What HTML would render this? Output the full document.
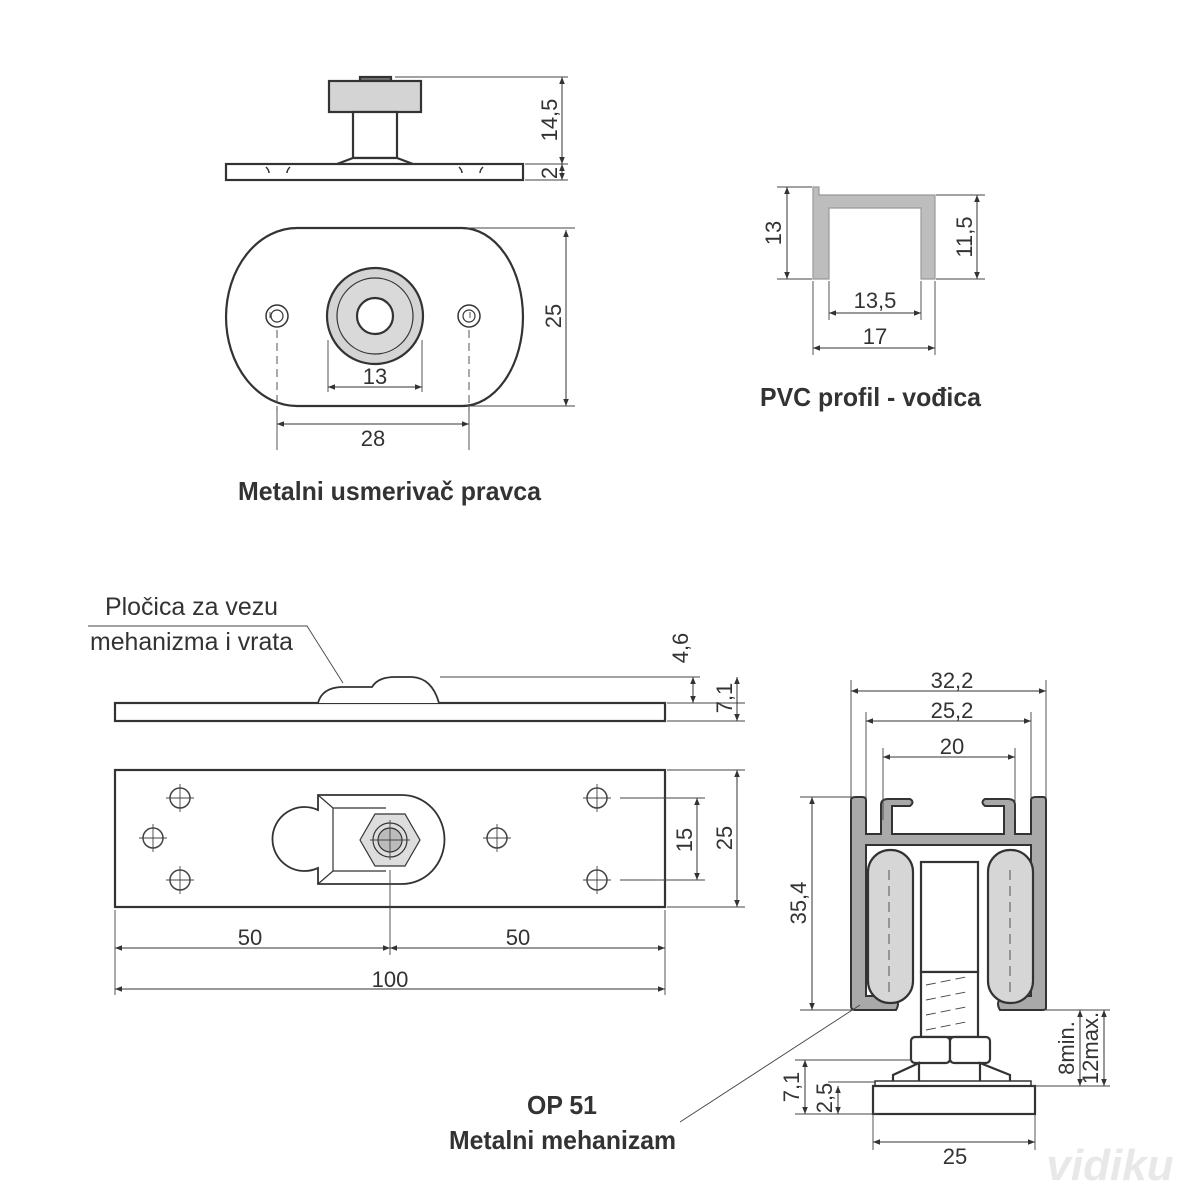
<!DOCTYPE html>
<html><head><meta charset="utf-8"><style>
html,body{margin:0;padding:0;background:#fff}
svg{display:block}
text{font-family:"Liberation Sans Narrow","Liberation Sans",sans-serif;fill:#333}
</style></head><body>
<svg width="1200" height="1200" viewBox="0 0 1200 1200" xmlns="http://www.w3.org/2000/svg">
<defs>
<marker id="a" viewBox="0 0 10 10" refX="10" refY="5" markerWidth="10" markerHeight="7" orient="auto-start-reverse" markerUnits="userSpaceOnUse"><path d="M0,1 L10,5 L0,9 Z" fill="#333"/></marker>
</defs>
<g stroke="#333" fill="none" stroke-width="2.2">
<rect x="360" y="77" width="31" height="4" fill="#777"/>
<rect x="329" y="81" width="92" height="31" fill="#d4d4d4"/>
<rect x="353" y="112" width="44" height="46" fill="#fff"/>
<path d="M337,164 L353,158 H397 L413,164" fill="#fff"/>
<rect x="226" y="164" width="297" height="16" fill="#fff"/>
<path d="M266,167 q3,3 3,6 M290,167 q-3,3 -3,6 M459,167 q3,3 3,6 M483,167 q-3,3 -3,6" stroke-width="1.5"/>
<path d="M297,228 H462 A61,89 0 0 1 462,406 H297 A71,89 0 0 1 297,228 Z" fill="#fff"/>
<circle cx="375" cy="316" r="48" fill="#d4d4d4"/>
<circle cx="375" cy="316" r="38" fill="#d9d9d9" stroke-width="1.2"/>
<circle cx="375" cy="316" r="18" fill="#fff"/>
<circle cx="277" cy="316" r="11" fill="#fff" stroke-width="1.5"/><circle cx="277" cy="316" r="6" stroke-width="1.2"/>
<circle cx="469" cy="316" r="11" fill="#fff" stroke-width="1.5"/><circle cx="469" cy="316" r="6" stroke-width="1.2"/>
<path d="M813,187 H819 V195 H935 V279 H921 V208 H829 V279 H813 Z" fill="#bdbdbd" stroke="#999" stroke-width="1.2"/>
<rect x="115" y="703" width="550" height="18" fill="#fff"/>
<path d="M318,703 Q322,688 341,687 H372 Q378,677 395,677 H412 Q432,678 439,703" fill="#fff" stroke-width="1.8"/>
<rect x="115" y="770" width="550" height="137" fill="#fff"/>
<path d="M318,795 H402 A42,44 0 0 1 402,884 H318 V868 A32,32 0 1 1 318,810 Z" fill="#fff" stroke-width="1.8"/>
<path d="M318,795 L333,808 H386 M318,884 L333,871 H386 M333,808 V871" stroke-width="1.2"/>
<path d="M360,840 L375,814 H405 L420,840 L405,866 H375 Z" fill="#ddd" stroke-width="1.2"/>
<circle cx="390" cy="840" r="17" stroke-width="1.2"/><circle cx="390" cy="840" r="12" fill="#bbb" stroke-width="1.2"/>
<path d="M851,800 Q851,797 856,797 H862 Q866,797 866,800 V834 H881 V805 Q881,799 888,799 H910 Q915,802 910,806 H892 V834 H1004 V806 H985 Q980,802 985,799 H1008 Q1015,799 1015,805 V834 H1031 V800 Q1031,797 1036,797 H1043 Q1046,797 1046,800 V1008 Q1046,1010 1042,1010 H1000 Q994,1000 1006,996 H1031 V845 H866 V996 H890 Q902,1000 896,1010 H855 Q851,1010 851,1006 Z" fill="#a9a9a9" stroke-width="2"/>
<rect x="868" y="850" width="45" height="153" rx="22" fill="#d6d6d6"/>
<rect x="988" y="850" width="45" height="153" rx="22" fill="#d6d6d6"/>
<rect x="921" y="862" width="57" height="110" fill="#fff"/>
<rect x="921" y="972" width="57" height="65" fill="#fff"/>
<rect x="911" y="1037" width="39" height="26" rx="4" fill="#fff"/>
<rect x="950" y="1037" width="40" height="26" rx="4" fill="#fff"/>
<path d="M893,1082 L893,1075 L919,1063 V1082 M1010,1082 V1075 L980,1063 V1082" fill="#fff"/>
<rect x="875" y="1081" width="156" height="5" fill="#fff" stroke-width="1.5"/>
<rect x="873" y="1086" width="162" height="28" fill="#fff"/>
</g>
<g stroke="#444" stroke-width="0.9" fill="none">
<path d="M270,312 v6 M470,312 v6" />
<path d="M277,330 V410 M469,330 V410" stroke-dasharray="8,5"/>
<path d="M395,77 H568 M525,180 H568 M525,164 H568 M466,228 H575 M466,406 H575 M328,340 V392 M422,340 V392 M277,406 V450 M469,406 V450"/>
<path d="M777,187 H812 M777,279 H812 M936,195 H985 M936,279 H985 M829,281 V320 M921,281 V320 M813,281 V355 M935,281 V355"/>
<path d="M88,626 H307 L343,683 M440,677 H700 M667,703 H745 M667,721 H745 M667,770 H745 M667,907 H745 M620,798 H705 M620,880 H705 M115,910 V995 M390,870 V955 M665,910 V995"/>
<path d="M851,680 V800 M1046,680 V800 M866,712 V800 M1031,712 V800 M883,748 V820 M1015,748 V820 M800,797 H852 M800,1010 H852 M1046,1010 H1110 M1032,1086 H1110 M795,1060 H912 M828,1082 H876 M795,1114 H876 M873,1115 V1150 M1035,1115 V1150 M680,1122 L860,1005"/>
<path d="M153,838 m-14,0 h28 m-14,-14 v28 M180,798 m-14,0 h28 m-14,-14 v28 M180,880 m-14,0 h28 m-14,-14 v28 M597,798 m-14,0 h28 m-14,-14 v28 M597,880 m-14,0 h28 m-14,-14 v28 M497,838 m-14,0 h28 m-14,-14 v28 M390,820 v40 M370,840 h40"/>
<path d="M889,870 V995 M1010,870 V995" stroke-dasharray="10,6"/>
<path d="M926,985 l40,-8 M926,1000 l40,-8 M926,1015 l40,-8 M926,1030 l40,-8" stroke-dasharray="10,5"/>
</g>
<g stroke="#444" fill="none" stroke-width="1.5">
<circle cx="153" cy="838" r="10"/><circle cx="180" cy="798" r="10"/><circle cx="180" cy="880" r="10"/>
<circle cx="597" cy="798" r="10"/><circle cx="597" cy="880" r="10"/><circle cx="497" cy="838" r="10"/>
</g>
<g stroke="#333" stroke-width="1" fill="none" marker-start="url(#a)" marker-end="url(#a)">
<path d="M562,77 V164"/><path d="M562,164 V180"/>
<path d="M566,230 V406"/><path d="M328,387 H422"/><path d="M277,424 H469"/>
<path d="M787,187 V279"/><path d="M977,195 V279"/><path d="M829,313 H921"/><path d="M813,348 H935"/>
<path d="M693,677 V703"/><path d="M737,677 V721"/>
<path d="M697,798 V880"/><path d="M737,770 V907"/>
<path d="M115,948 H390"/><path d="M390,948 H665"/><path d="M115,989 H665"/>
<path d="M851,691 H1046"/><path d="M866,721 H1031"/><path d="M883,757 H1015"/>
<path d="M812,797 V1010"/><path d="M805,1060 V1114"/><path d="M838,1086 V1114"/>
<path d="M1080,1010 V1086"/><path d="M1104,1010 V1086"/>
<path d="M873,1142 H1035"/>
</g>
<g font-size="22">
<text x="557" y="120" transform="rotate(-90 557 120)" text-anchor="middle">14,5</text>
<text x="557" y="173" transform="rotate(-90 557 173)" text-anchor="middle">2</text>
<text x="561" y="316" transform="rotate(-90 561 316)" text-anchor="middle">25</text>
<text x="375" y="384" text-anchor="middle">13</text>
<text x="373" y="446" text-anchor="middle">28</text>
<text x="781" y="233" transform="rotate(-90 781 233)" text-anchor="middle">13</text>
<text x="972" y="237" transform="rotate(-90 972 237)" text-anchor="middle">11,5</text>
<text x="875" y="308" text-anchor="middle">13,5</text>
<text x="875" y="344" text-anchor="middle">17</text>
<text x="105" y="615" font-size="25" textLength="173" lengthAdjust="spacingAndGlyphs">Pločica za vezu</text>
<text x="90" y="650" font-size="25" textLength="203" lengthAdjust="spacingAndGlyphs">mehanizma i vrata</text>
<text x="688" y="648" transform="rotate(-90 688 648)" text-anchor="middle">4,6</text>
<text x="732" y="698" transform="rotate(-90 732 698)" text-anchor="middle">7,1</text>
<text x="692" y="840" transform="rotate(-90 692 840)" text-anchor="middle">15</text>
<text x="732" y="838" transform="rotate(-90 732 838)" text-anchor="middle">25</text>
<text x="250" y="945" text-anchor="middle">50</text>
<text x="518" y="945" text-anchor="middle">50</text>
<text x="390" y="987" text-anchor="middle">100</text>
<text x="952" y="688" text-anchor="middle">32,2</text>
<text x="952" y="718" text-anchor="middle">25,2</text>
<text x="952" y="754" text-anchor="middle">20</text>
<text x="806" y="903" transform="rotate(-90 806 903)" text-anchor="middle">35,4</text>
<text x="799" y="1087" transform="rotate(-90 799 1087)" text-anchor="middle">7,1</text>
<text x="832" y="1098" transform="rotate(-90 832 1098)" text-anchor="middle">2,5</text>
<text x="1074" y="1048" transform="rotate(-90 1074 1048)" text-anchor="middle">8min.</text>
<text x="1098" y="1048" transform="rotate(-90 1098 1048)" text-anchor="middle">12max.</text>
<text x="955" y="1164" text-anchor="middle">25</text>
</g>
<g font-weight="bold" font-size="26">
<text x="238" y="500" textLength="303" lengthAdjust="spacingAndGlyphs">Metalni usmerivač pravca</text>
<text x="760" y="406" textLength="221" lengthAdjust="spacingAndGlyphs">PVC profil - vođica</text>
<text x="527" y="1114" textLength="70" lengthAdjust="spacingAndGlyphs">OP 51</text>
<text x="449" y="1149" textLength="227" lengthAdjust="spacingAndGlyphs">Metalni mehanizam</text>
</g>
<text x="1110" y="1180" font-size="44" font-style="italic" font-weight="bold" style="fill:#e8e8e8" text-anchor="middle">vidiku</text>
</svg>
</body></html>
